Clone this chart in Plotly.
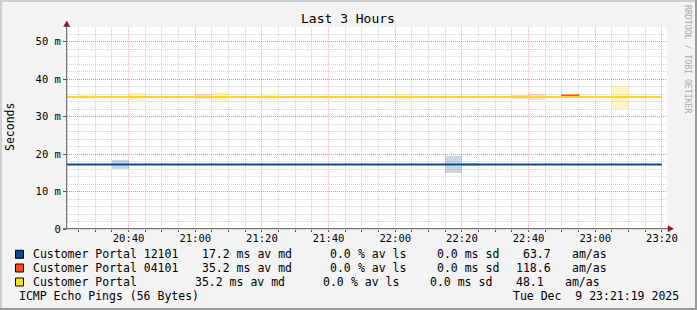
import plotly.graph_objects as go
import pandas as pd

DAY = "2025-12-09 "
# ---- data ----
x_start = DAY + "20:21:32"
x_end = DAY + "23:21:32"
line_times = ["20:21:32", "22:50:00", "22:55:00", "23:20:00"]
median_12101 = [17.2, 17.2, 17.2, 17.2]
median_04101 = [35.2, 35.65, 35.2, 35.2]
median_portal = [35.2, 35.2, 35.2, 35.2]

# smoke (slot start, low, high) in ms
smoke_12101_t = ["20:35", "22:15", "22:20"]
smoke_12101_lo = [15.9, 15.0, 16.8]
smoke_12101_hi = [18.4, 19.4, 17.6]

smoke_04101_t = ["20:25", "21:00", "21:15", "21:40", "21:45", "22:35", "22:40", "23:15"]
smoke_04101_lo = [34.9, 34.7, 34.9, 35.0, 35.0, 34.8, 34.4, 35.0]
smoke_04101_hi = [35.6, 35.9, 35.6, 35.4, 35.4, 35.8, 35.9, 35.4]

smoke_portal_t = ["20:25", "20:40", "20:45", "21:05", "21:15", "21:20", "21:35",
                  "22:00", "22:05", "23:05", "23:10"]
smoke_portal_lo = [34.8, 34.2, 34.9, 33.9, 34.9, 34.5, 35.0, 34.5, 34.9, 32.0, 34.9]
smoke_portal_hi = [35.7, 36.4, 35.5, 36.6, 35.6, 35.7, 35.4, 35.9, 35.5, 38.2, 35.6]

y_tickvals = [0, 10, 20, 30, 40, 50]
y_ticktext = ["0", "10 m", "20 m", "30 m", "40 m", "50 m"]

legend_rows = [
    ["Customer Portal 12101", "17.2 ms av md", "0.0", "% av ls", "0.0 ms sd", "63.7", "am/as"],
    ["Customer Portal 04101", "35.2 ms av md", "0.0", "% av ls", "0.0 ms sd", "118.6", "am/as"],
    ["Customer Portal", "35.2 ms av md", "0.0", "% av ls", "0.0 ms sd", "48.1", "am/as"],
]
legend_colors = ["#0A4C8C", "#FF4A14", "#FFDC1F"]
footer_left = "ICMP Echo Pings (56 Bytes)"
footer_right = "Tue Dec\u00a0\u00a09 23:21:19 2025"
title = "Last 3 Hours"

# ---- geometry ----
W, H = 697, 310
L, R, T, B = 67, 30, 27, 81
PW, PH = W - L - R, H - T - B
FONT = "DejaVu Sans Mono"


def px(x):
    return (x - L) / PW


def py(y):
    return (H - B - y) / PH


def slot_center(t):
    return pd.Timestamp(DAY + t) + pd.Timedelta(minutes=2.5)


fig = go.Figure()

for tt, lo, hi, col in [
    (smoke_portal_t, smoke_portal_lo, smoke_portal_hi, "rgba(255,215,20,0.24)"),
    (smoke_04101_t, smoke_04101_lo, smoke_04101_hi, "rgba(255,74,20,0.2)"),
    (smoke_12101_t, smoke_12101_lo, smoke_12101_hi, "rgba(10,76,140,0.22)"),
]:
    fig.add_trace(go.Bar(
        x=[slot_center(t) for t in tt],
        y=[h - l for l, h in zip(lo, hi)],
        base=lo, width=300000, marker=dict(color=col, line=dict(width=0)),
        showlegend=False, hoverinfo="skip"))

lt = [pd.Timestamp(DAY + t) for t in line_times]
fig.add_trace(go.Scatter(x=lt, y=median_12101, mode="lines", line=dict(color="#0A4C8C", width=2, shape="hv"), showlegend=False))
fig.add_trace(go.Scatter(x=lt, y=median_04101, mode="lines", line=dict(color="#FF5010", width=1.8, shape="hv"), showlegend=False))
fig.add_trace(go.Scatter(x=lt, y=median_portal, mode="lines", line=dict(color="#FFD52A", width=2, shape="hv"), showlegend=False))

ann = []
shapes = []
ann.append(dict(text=title, x=px(347.5), y=py(19), xref="paper", yref="paper", showarrow=False,
                xanchor="center", yanchor="middle", font=dict(family=FONT, size=13, color="#000")))
ann.append(dict(text="Seconds", x=px(10), y=py(127), xref="paper", yref="paper", showarrow=False,
                textangle=-90, xanchor="center", yanchor="middle", font=dict(family=FONT, size=11.5, color="#000")))
ann.append(dict(text="RRDTOOL / TOBI OETIKER", x=px(688), y=py(59), xref="paper", yref="paper", showarrow=False,
                textangle=90, xanchor="center", yanchor="middle", font=dict(family=FONT, size=8.2, color="#AAAAAA")))

col_x = [
    [30.7, 200, 328.3, 355.7, 435, 521, 570],
    [30.7, 200, 328.3, 355.7, 435, 514.3, 570],
    [30.7, 193.3, 321, 349, 428.3, 514.3, 563.3],
]
row_y = [254.3, 268, 282]
for r, row in enumerate(legend_rows):
    for c, txt in enumerate(row):
        ann.append(dict(text=txt.replace(" ", "\u00a0"), x=px(col_x[r][c]), y=py(row_y[r]), xref="paper", yref="paper",
                        showarrow=False, xanchor="left", yanchor="middle",
                        font=dict(family=FONT, size=11.5, color="#000")))
    shapes.append(dict(type="rect", xref="paper", yref="paper", x0=px(15.5), x1=px(23.5),
                       y0=py(row_y[r] + 4), y1=py(row_y[r] - 4), fillcolor=legend_colors[r],
                       line=dict(color="#000", width=1)))
ann.append(dict(text=footer_left.replace(" ", "\u00a0"), x=px(16.7), y=py(296), xref="paper", yref="paper",
                showarrow=False, xanchor="left", yanchor="middle", font=dict(family=FONT, size=11.5, color="#000")))
ann.append(dict(text=footer_right.replace(" ", "\u00a0"), x=px(680.5), y=py(296), xref="paper", yref="paper",
                showarrow=False, xanchor="right", yanchor="middle", font=dict(family=FONT, size=11.5, color="#000")))

# axes lines and arrows
axc = "#555555"
arc = "#8B1A1A"
shapes += [
    dict(type="line", xref="paper", yref="paper", x0=px(66.7), x1=px(66.7), y0=py(229), y1=py(25), line=dict(color=axc, width=1)),
    dict(type="line", xref="paper", yref="paper", x0=px(63), x1=px(669), y0=py(228.7), y1=py(228.7), line=dict(color=axc, width=1)),
    dict(type="path", xref="paper", yref="paper",
         path=f"M {px(63.7)},{py(26.5)} L {px(69.7)},{py(26.5)} L {px(66.7)},{py(21)} Z",
         fillcolor=arc, line=dict(color=arc, width=0.5)),
    dict(type="path", xref="paper", yref="paper",
         path=f"M {px(668)},{py(225.7)} L {px(668)},{py(231.7)} L {px(673.5)},{py(228.7)} Z",
         fillcolor=arc, line=dict(color=arc, width=0.5)),
    # frame
    dict(type="line", xref="paper", yref="paper", x0=px(0), x1=px(697), y0=py(1), y1=py(1), line=dict(color="#CFCFCF", width=2)),
    dict(type="line", xref="paper", yref="paper", x0=px(1), x1=px(1), y0=py(0), y1=py(310), line=dict(color="#CFCFCF", width=2)),
    dict(type="line", xref="paper", yref="paper", x0=px(0), x1=px(697), y0=py(309), y1=py(309), line=dict(color="#9A9A9A", width=2)),
    dict(type="line", xref="paper", yref="paper", x0=px(696), x1=px(696), y0=py(0), y1=py(310), line=dict(color="#9A9A9A", width=2)),
]

major = dict(gridcolor="rgba(255,0,0,0.33)", griddash="1px,1px", gridwidth=1)
minor_grid = dict(showgrid=True, gridcolor="rgba(160,160,160,0.45)", griddash="1px,1px", gridwidth=1)

fig.update_layout(
    width=W, height=H, margin=dict(l=L, r=R, t=T, b=B, pad=0),
    paper_bgcolor="#F3F3F3", plot_bgcolor="#FFFFFF",
    barmode="overlay", bargap=0, showlegend=False,
    annotations=ann, shapes=shapes,
    xaxis=dict(type="date", range=[x_start, x_end], tick0=DAY + "20:00:00", dtick=1200000,
               tickformat="%H:%M", showline=False, zeroline=False, ticks="outside", ticklen=2,
               tickcolor=axc, showgrid=True, **major, ticklabelstandoff=-3,
               minor=dict(dtick=300000, tick0=DAY + "20:00:00", ticks="outside", ticklen=2, tickcolor=axc, **minor_grid),
               tickfont=dict(family=FONT, size=10.5, color="#000")),
    yaxis=dict(range=[0, 53.9], tickvals=y_tickvals, ticktext=y_ticktext, showline=False, zeroline=False,
               ticks="outside", ticklen=3, tickcolor=axc, showgrid=True, **major,
               minor=dict(dtick=2, tick0=0, **minor_grid),
               tickfont=dict(family=FONT, size=10.5, color="#000")),
)

fig.write_html("out.html")
